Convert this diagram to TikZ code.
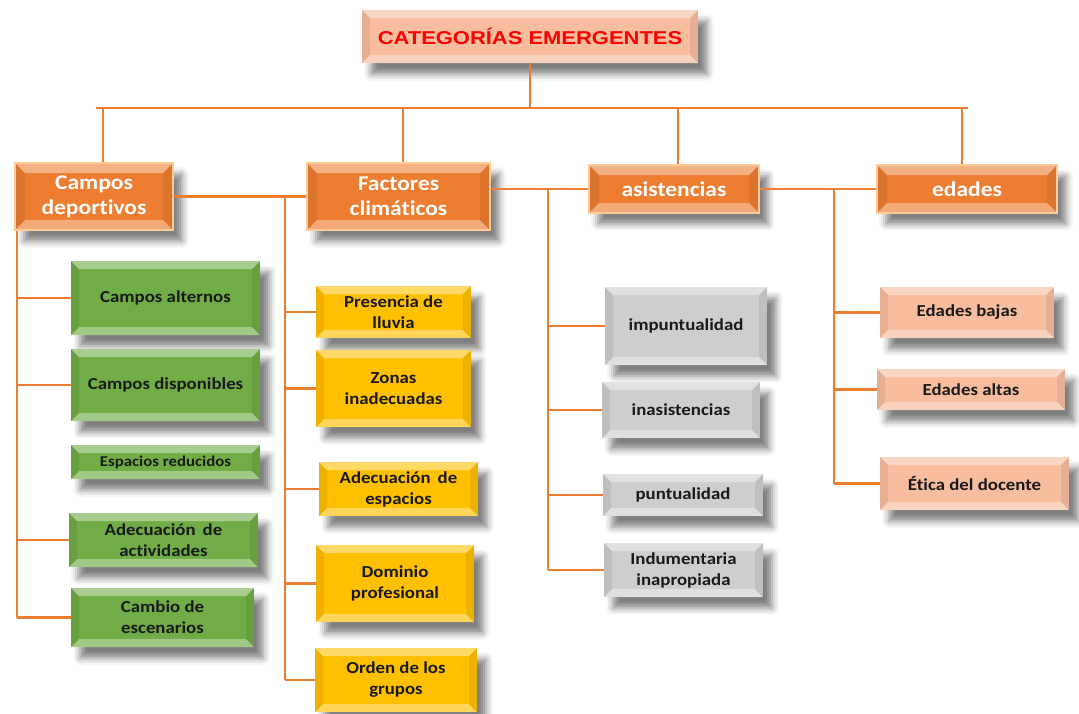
\documentclass[tikz,border=0pt]{standalone}
\usepackage{fontspec}
\setmainfont{Carlito}[FakeStretch=1.12,Ligatures=CommonOff]
\newfontfamily\titlefont{Liberation Sans}[FakeStretch=1.18]
\usetikzlibrary{calc,shadows.blur}
\definecolor{linea}{RGB}{237,125,49}
\definecolor{naranja}{RGB}{237,125,49}
\definecolor{verde}{RGB}{112,173,71}
\definecolor{amarillo}{RGB}{255,192,0}
\definecolor{gris}{RGB}{206,206,206}
\definecolor{salmon}{RGB}{248,188,158}
\tikzset{
  bevel/.style={path picture={
      \coordinate (nw) at (path picture bounding box.north west);
      \coordinate (ne) at (path picture bounding box.north east);
      \coordinate (sw) at (path picture bounding box.south west);
      \coordinate (se) at (path picture bounding box.south east);
      \fill[white,opacity=.4](nw)--(ne)--([shift={(-#1,-#1)}]ne)--([shift={(#1,-#1)}]nw)--cycle;
      \fill[white,opacity=.35](sw)--(se)--([shift={(-#1,#1)}]se)--([shift={(#1,#1)}]sw)--cycle;
      \fill[black,opacity=.07](nw)--([shift={(#1,-#1)}]nw)--([shift={(#1,#1)}]sw)--(sw)--cycle;
      \fill[black,opacity=.07](ne)--([shift={(-#1,-#1)}]ne)--([shift={(-#1,#1)}]se)--(se)--cycle;
    }},
  caja/.style={rectangle,inner sep=0pt,align=center,text=black!90,
    font=\bfseries\fontsize{16.8}{21}\selectfont,bevel=8pt,
    blur shadow={shadow xshift=9pt,shadow yshift=-11pt,shadow blur radius=7pt,shadow opacity=50}},
  tema/.style={caja,fill=naranja,text=white,draw=orange!40,line width=2pt,
    font=\bfseries\fontsize{21}{25}\selectfont,bevel=10pt},
  verdebox/.style={caja,fill=verde},
  amarillobox/.style={caja,fill=amarillo},
  grisbox/.style={caja,fill=gris},
  salmonbox/.style={caja,fill=salmon},
  link/.style={draw=linea,line width=2.7pt}
}
\begin{document}
\begin{tikzpicture}[x=1pt,y=-1pt]
  \useasboundingbox (0,0) rectangle (1079,713);
  % titulo
  \node[caja,fill=salmon,text=red,font=\titlefont\bfseries\fontsize{18.6}{22}\selectfont,
    minimum width=336,minimum height=53](title)at(530,36.5){CATEGORÍAS EMERGENTES};
  % categorias
  \node[tema,minimum width=158,minimum height=67](camp)at(94,196.5){Campos\\deportivos};
  \node[tema,minimum width=183,minimum height=67](fact)at(398.5,196.5){Factores\\climáticos};
  \node[tema,minimum width=170,minimum height=48](asis)at(674,189){asistencias};
  \node[tema,minimum width=180,minimum height=48](edad)at(967,189){edades};
  % campos deportivos
  \node[verdebox,minimum width=189,minimum height=74](alt)at(165.5,298){Campos alternos};
  \node[verdebox,minimum width=189,minimum height=72](disp)at(165.5,385){Campos disponibles};
  \node[verdebox,minimum width=189,minimum height=34,font=\bfseries\fontsize{15}{18}\selectfont](esp)at(165.5,462){Espacios reducidos};
  \node[verdebox,minimum width=189,minimum height=54](adact)at(163.5,540){Adecuación\, de\\actividades};
  \node[verdebox,minimum width=183,minimum height=59](camb)at(162.5,617.5){Cambio de\\escenarios};
  % factores climaticos
  \node[amarillobox,minimum width=155,minimum height=52](lluv)at(393.5,312){Presencia de\\lluvia};
  \node[amarillobox,minimum width=155,minimum height=77](zon)at(393.5,388.5){Zonas\\inadecuadas};
  \node[amarillobox,minimum width=159,minimum height=54](adesp)at(398.5,489){Adecuación\, de\\espacios};
  \node[amarillobox,minimum width=158,minimum height=77](dom)at(395,583.5){Dominio\\profesional};
  \node[amarillobox,minimum width=162,minimum height=64](ord)at(396,680){Orden de los\\grupos};
  % asistencias
  \node[grisbox,minimum width=162,minimum height=78](imp)at(686,326){impuntualidad};
  \node[grisbox,minimum width=158,minimum height=56](inas)at(681,410){inasistencias};
  \node[grisbox,minimum width=160,minimum height=42](punt)at(683,495){puntualidad};
  \node[grisbox,minimum width=159,minimum height=54](ind)at(683.5,570){Indumentaria\\inapropiada};
  % edades
  \node[salmonbox,minimum width=174,minimum height=51](baj)at(967,312.5){Edades bajas};
  \node[salmonbox,minimum width=188,minimum height=41](alta)at(971,389.5){Edades altas};
  \node[salmonbox,minimum width=189,minimum height=53](eti)at(974.5,483.5){Ética del docente};
  % lineas
  \coordinate(busL)at(96,108);
  \coordinate(busR)at(968,108);
  \draw[link](title.south)--(title.south |- busL);
  \draw[link](busL)--(busR);
  \foreach \n/\x in {camp/103,fact/403,asis/678,edad/962}{
    \coordinate(d)at(\x,108);
    \draw[link](d)--(d |- \n.north);
  }
  \draw[link](camp.east)--(fact.west);
  \draw[link](fact.east |- asis.west)--(asis.west);
  \draw[link](asis.east)--(edad.west);
  \coordinate(s1)at(17,0);
  \coordinate(s2)at(285,0);
  \coordinate(s3)at(548,0);
  \coordinate(s4)at(834,0);
  \draw[link](s1 |- camp.south)--(s1 |- camb.west);
  \draw[link](s2 |- fact.west)--(s2 |- ord.west);
  \draw[link](s3 |- asis.west)--(s3 |- ind.west);
  \draw[link](s4 |- edad.west)--(s4 |- eti.west);
  \foreach \n in {alt,disp,adact,camb}\draw[link](s1 |- \n.west)--(\n.west);
  \foreach \n in {lluv,zon,adesp,dom,ord}\draw[link](s2 |- \n.west)--(\n.west);
  \foreach \n in {imp,inas,punt,ind}\draw[link](s3 |- \n.west)--(\n.west);
  \foreach \n in {baj,alta,eti}\draw[link](s4 |- \n.west)--(\n.west);
\end{tikzpicture}
\end{document}
